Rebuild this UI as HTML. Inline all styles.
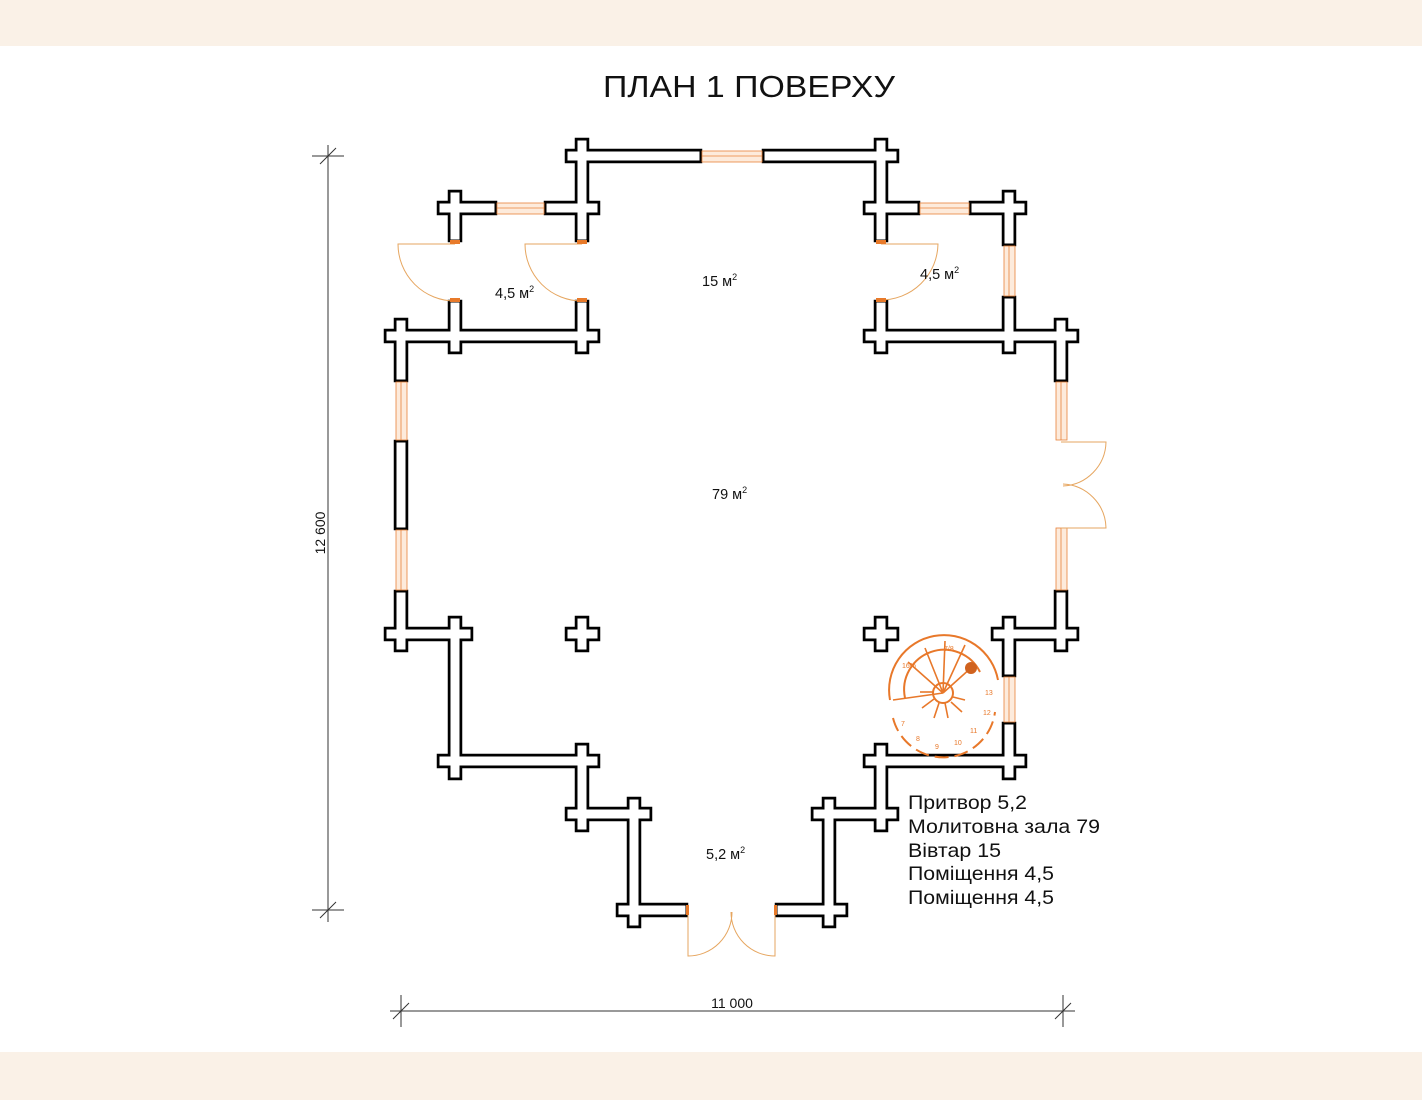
<!DOCTYPE html>
<html><head><meta charset="utf-8"><style>
html,body{margin:0;padding:0;width:1422px;height:1100px;overflow:hidden;background:#fff;}
.band{position:absolute;left:0;width:1422px;background:#faf1e7;}
svg{position:absolute;left:0;top:0;}
text{font-family:"Liberation Sans",sans-serif;}
</style></head><body>
<div class="band" style="top:0;height:46px"></div>
<div class="band" style="top:1052px;height:48px"></div>
<svg width="1422" height="1100" viewBox="0 0 1422 1100">
<defs>
<g id="w">
<rect x="567.5" y="151.5" width="132" height="9"/>
<rect x="764.5" y="151.5" width="132" height="9"/>
<rect x="577.5" y="140.5" width="9" height="99"/>
<rect x="876.5" y="140.5" width="9" height="99"/>
<rect x="546.5" y="203.5" width="51" height="9"/>
<rect x="439.5" y="203.5" width="55" height="9"/>
<rect x="450.5" y="192.5" width="9" height="47"/>
<rect x="865.5" y="203.5" width="52" height="9"/>
<rect x="971.5" y="203.5" width="53" height="9"/>
<rect x="1004.5" y="192.5" width="9" height="51"/>
<rect x="450.5" y="302.5" width="9" height="49"/>
<rect x="577.5" y="302.5" width="9" height="49"/>
<rect x="876.5" y="302.5" width="9" height="49"/>
<rect x="1004.5" y="298.5" width="9" height="53"/>
<rect x="386.5" y="331.5" width="211" height="9"/>
<rect x="865.5" y="331.5" width="211" height="9"/>
<rect x="396.5" y="320.5" width="9" height="59"/>
<rect x="1056.5" y="320.5" width="9" height="59"/>
<rect x="396.5" y="442.5" width="9" height="85"/>
<rect x="396.5" y="592.5" width="9" height="57"/>
<rect x="386.5" y="629.5" width="84" height="9"/>
<rect x="450.5" y="618.5" width="9" height="159"/>
<rect x="439.5" y="756.5" width="158" height="9"/>
<rect x="577.5" y="745.5" width="9" height="84"/>
<rect x="567.5" y="809.5" width="82" height="9"/>
<rect x="629.5" y="799.5" width="9" height="126"/>
<rect x="618.5" y="905.5" width="67" height="9"/>
<rect x="777.5" y="905.5" width="68" height="9"/>
<rect x="824.5" y="799.5" width="9" height="126"/>
<rect x="813.5" y="809.5" width="83" height="9"/>
<rect x="876.5" y="745.5" width="9" height="84"/>
<rect x="865.5" y="756.5" width="159" height="9"/>
<rect x="1004.5" y="724.5" width="9" height="53"/>
<rect x="1004.5" y="618.5" width="9" height="56"/>
<rect x="993.5" y="629.5" width="83" height="9"/>
<rect x="1056.5" y="592.5" width="9" height="57"/>
<rect x="567.5" y="629.5" width="30" height="9"/>
<rect x="577.5" y="618.5" width="9" height="31"/>
<rect x="865.5" y="629.5" width="31" height="9"/>
<rect x="876.5" y="618.5" width="9" height="31"/>
</g>
</defs>
<use href="#w" fill="#000" stroke="#000" stroke-width="5.5"/>
<use href="#w" fill="#fff" stroke="none"/>

<g fill="#fdebdc" stroke="#e8823a" stroke-width="0.8">
<rect x="702" y="151" width="60" height="11"/><line x1="702" y1="156" x2="762" y2="156"/>
<rect x="497" y="203" width="47" height="11"/><line x1="497" y1="208" x2="544" y2="208"/>
<rect x="920" y="203" width="49" height="11"/><line x1="920" y1="208" x2="969" y2="208"/>
<rect x="1004" y="246" width="11" height="50"/><line x1="1009" y1="246" x2="1009" y2="296"/>
<rect x="396" y="382" width="11" height="58"/><line x1="401" y1="382" x2="401" y2="440"/>
<rect x="396" y="530" width="11" height="60"/><line x1="401" y1="530" x2="401" y2="590"/>
<rect x="1056" y="382" width="11" height="58"/><line x1="1061" y1="382" x2="1061" y2="440"/>
<rect x="1056" y="528" width="11" height="62"/><line x1="1061" y1="528" x2="1061" y2="590"/>
<rect x="1004" y="677" width="11" height="45"/><line x1="1009" y1="677" x2="1009" y2="722"/>
</g>
<g fill="none" stroke="#e6a660" stroke-width="1">
<path d="M455 244 H398 A57 57 0 0 0 455 301"/>
<path d="M582 244 H525 A57 57 0 0 0 582 301"/>
<path d="M881 300 A57 57 0 0 0 938 244 H881"/>
<path d="M1061 442 H1106 A45 45 0 0 1 1063 486"/>
<path d="M1061 528 H1106 A45 45 0 0 0 1063 484"/>
<path d="M688 910 V956 A44 44 0 0 0 732 912"/>
<path d="M775 910 V956 A44 44 0 0 1 731 912"/>
</g>
<g fill="#e87a2a">
<rect x="450" y="240" width="10" height="4"/><rect x="577" y="240" width="10" height="4"/>
<rect x="450" y="298" width="10" height="4"/><rect x="577" y="298" width="10" height="4"/>
<rect x="876" y="240" width="10" height="4"/><rect x="876" y="298" width="10" height="4"/>
<rect x="686" y="905" width="3" height="10"/><rect x="774" y="905" width="3" height="10"/>
</g>
<g fill="none" stroke="#e8782a" stroke-width="2">
<path d="M890 700 A54 54 0 0 1 998 680"/>
<path d="M905 698 A40 40 0 0 1 980 672"/>
<circle cx="943" cy="693" r="10"/>
<path d="M893 718 A52 52 0 0 0 995 712" stroke-dasharray="14 6"/>
<g stroke-width="1.6">
<line x1="943" y1="693" x2="893" y2="700"/><line x1="943" y1="693" x2="908" y2="662"/>
<line x1="943" y1="693" x2="925" y2="648"/><line x1="943" y1="693" x2="945" y2="641"/>
<line x1="943" y1="693" x2="965" y2="645"/><line x1="943" y1="693" x2="972" y2="667"/>
<line x1="953" y1="697" x2="965" y2="700"/><line x1="951" y1="702" x2="962" y2="712"/>
<line x1="945" y1="703" x2="948" y2="718"/><line x1="939" y1="703" x2="934" y2="718"/>
<line x1="934" y1="699" x2="922" y2="708"/><line x1="933" y1="692" x2="920" y2="692"/>
</g>
</g>
<circle cx="971" cy="668" r="6" fill="#d0621e"/>
<g font-size="7" fill="#e8782a">
<text x="985" y="695">13</text><text x="983" y="715">12</text><text x="970" y="733">11</text>
<text x="954" y="745">10</text><text x="935" y="749">9</text><text x="916" y="741">8</text><text x="901" y="726">7</text>
<text x="902" y="668">16%</text><text x="944" y="651">7/8</text>
</g>
<g fill="#111" font-size="14.5">
<text x="495" y="298">4,5 м<tspan font-size="9" dy="-6">2</tspan></text>
<text x="702" y="286">15 м<tspan font-size="9" dy="-6">2</tspan></text>
<text x="920" y="279">4,5 м<tspan font-size="9" dy="-6">2</tspan></text>
<text x="712" y="499">79 м<tspan font-size="9" dy="-6">2</tspan></text>
<text x="706" y="859">5,2 м<tspan font-size="9" dy="-6">2</tspan></text>
</g>
<text x="603" y="97" font-size="31" textLength="292" lengthAdjust="spacingAndGlyphs" fill="#111">ПЛАН 1 ПОВЕРХУ</text>
<g font-size="19.5" fill="#111">
<text x="908" y="809" textLength="119" lengthAdjust="spacingAndGlyphs">Притвор 5,2</text>
<text x="908" y="833" textLength="192" lengthAdjust="spacingAndGlyphs">Молитовна зала 79</text>
<text x="908" y="857" textLength="93" lengthAdjust="spacingAndGlyphs">Вівтар 15</text>
<text x="908" y="880" textLength="146" lengthAdjust="spacingAndGlyphs">Поміщення 4,5</text>
<text x="908" y="904" textLength="146" lengthAdjust="spacingAndGlyphs">Поміщення 4,5</text>
</g>
<g stroke="#333" stroke-width="1">
<line x1="328" y1="145" x2="328" y2="922"/>
<line x1="312" y1="156" x2="344" y2="156"/><line x1="320" y1="164" x2="336" y2="148"/>
<line x1="312" y1="910" x2="344" y2="910"/><line x1="320" y1="918" x2="336" y2="902"/>
<line x1="390" y1="1011" x2="1075" y2="1011"/>
<line x1="401" y1="995" x2="401" y2="1027"/><line x1="393" y1="1019" x2="409" y2="1003"/>
<line x1="1063" y1="995" x2="1063" y2="1027"/><line x1="1055" y1="1019" x2="1071" y2="1003"/>
</g>
<text x="732" y="1008" font-size="14" text-anchor="middle" fill="#111">11 000</text>
<text transform="translate(325,533) rotate(-90)" font-size="14" text-anchor="middle" fill="#111">12 600</text>
</svg>
</body></html>
